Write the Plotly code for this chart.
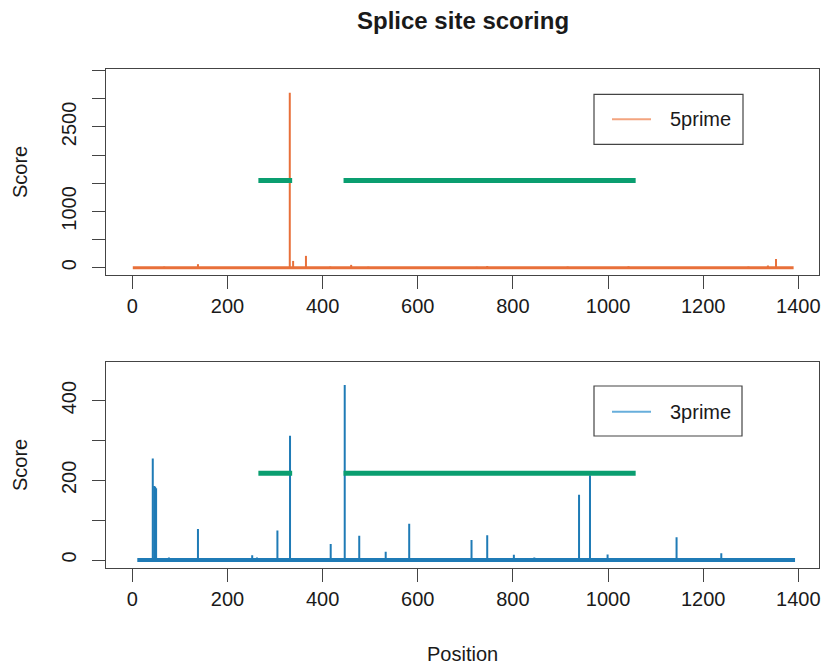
import plotly.graph_objects as go

# ---------------- data ----------------
# 5prime scores (position, score) – spikes above the zero baseline
pos5 = [67, 138, 230, 331, 338, 365, 416, 460, 496, 724, 746, 781, 915, 1043, 1295, 1336, 1353]
score5 = [20, 62, 8, 3110, 120, 210, 20, 50, 18, 15, 30, 10, 20, 25, 20, 40, 155]
range5 = [1, 1390]          # first/last scored position (score 0 baseline)

# 3prime scores
pos3 = [43, 46, 48, 50, 77, 138, 252, 262, 305, 331.5, 417, 446.5, 477, 532.6, 561, 582,
        610, 690, 713, 746, 802, 829, 845, 876, 939, 962, 999, 1144, 1227, 1238]
score3 = [255, 186, 184, 180, 6, 78, 12, 6, 74, 312, 40, 439, 61, 21, 5, 91,
          3, 3, 50, 62, 13, 3, 6, 2, 164, 213, 14, 57, 4, 17]
range3 = [10.5, 1393]

# green segments (exon regions)
seg_start = [265, 444]
seg_end = [336, 1058]
seg_level5 = 1550
seg_level3 = 218

x_ticks = [0, 200, 400, 600, 800, 1000, 1200, 1400]
y5_ticks = [0, 500, 1000, 1500, 2000, 2500, 3000, 3500]
y5_labels = ["0", "", "1000", "", "", "2500", "", ""]
y3_ticks = [0, 100, 200, 300, 400]
y3_labels = ["0", "", "200", "", "400"]

ORANGE = "#E8703A"
ORANGE_L = "#F3A47F"
BLUE = "#1F7BB6"
BLUE_L = "#67AEDB"
GREEN = "#0A9E70"
FONT = "Liberation Sans, Arial, Helvetica, sans-serif"
TXT = "#1a1a1a"
AX = "#444444"

W, H = 825, 665


def spikes(pos, sc):
    xs, ys = [], []
    for p, s in zip(pos, sc):
        xs += [p, p, None]
        ys += [0, s, None]
    return xs, ys


def segs(starts, ends, level):
    xs, ys = [], []
    for a, b in zip(starts, ends):
        xs += [a, b, None]
        ys += [level, level, None]
    return xs, ys


fig = go.Figure()

# top panel
fig.add_trace(go.Scatter(x=range5, y=[0, 0], mode="lines", line=dict(color=ORANGE, width=3),
                         showlegend=False, hoverinfo="skip", xaxis="x", yaxis="y"))
sx, sy = spikes(pos5, score5)
fig.add_trace(go.Scatter(x=sx, y=sy, mode="lines", line=dict(color=ORANGE, width=2),
                         showlegend=False, name="5prime", xaxis="x", yaxis="y"))
gx, gy = segs(seg_start, seg_end, seg_level5)
fig.add_trace(go.Scatter(x=gx, y=gy, mode="lines", line=dict(color=GREEN, width=5),
                         showlegend=False, hoverinfo="skip", xaxis="x", yaxis="y"))

# bottom panel
fig.add_trace(go.Scatter(x=range3, y=[0, 0], mode="lines", line=dict(color=BLUE, width=4),
                         showlegend=False, hoverinfo="skip", xaxis="x2", yaxis="y2"))
sx, sy = spikes(pos3, score3)
fig.add_trace(go.Scatter(x=sx, y=sy, mode="lines", line=dict(color=BLUE, width=2),
                         showlegend=False, name="3prime", xaxis="x2", yaxis="y2"))
gx, gy = segs(seg_start, seg_end, seg_level3)
fig.add_trace(go.Scatter(x=gx, y=gy, mode="lines", line=dict(color=GREEN, width=5),
                         showlegend=False, hoverinfo="skip", xaxis="x2", yaxis="y2"))


def px(x):
    return x / W


def py(y):
    return 1 - y / H


xdom = [px(106), px(819.3)]
common_x = dict(range=[-55.3, 1444], tickvals=x_ticks, ticks="outside", ticklen=13, tickwidth=1,
                tickcolor=AX, showline=True, linecolor=AX, linewidth=1, mirror=True,
                showgrid=False, zeroline=False, domain=xdom,
                tickfont=dict(family=FONT, size=20, color=TXT))
common_y = dict(ticks="outside", ticklen=13, tickwidth=1, tickcolor=AX, showline=True,
                linecolor=AX, linewidth=1, mirror=True, showgrid=False, zeroline=False,
                tickangle=-90, tickfont=dict(family=FONT, size=20, color=TXT),
                ticklabelstandoff=8)

fig.update_layout(
    width=W, height=H,
    margin=dict(l=0, r=0, t=0, b=0),
    paper_bgcolor="white", plot_bgcolor="white",
    showlegend=False,
    xaxis=dict(common_x, anchor="y"),
    yaxis=dict(common_y, range=[-130, 3525], tickvals=y5_ticks, ticktext=y5_labels,
               domain=[py(275), py(69.3)], anchor="x"),
    xaxis2=dict(common_x, anchor="y2"),
    yaxis2=dict(common_y, range=[-19.3, 497], tickvals=y3_ticks, ticktext=y3_labels,
                domain=[py(567.7), py(362)], anchor="x2"),
)

ann = [
    dict(text="<b>Splice site scoring</b>", x=px(463), y=py(20), font=dict(size=24)),
    dict(text="Score", x=px(20), y=py(172), textangle=-90, font=dict(size=20)),
    dict(text="Score", x=px(20), y=py(465), textangle=-90, font=dict(size=20)),
    dict(text="Position", x=px(463), y=py(654), font=dict(size=20)),
    dict(text="5prime", x=px(668), y=py(119.3), xanchor="left", font=dict(size=20)),
    dict(text="3prime", x=px(668), y=py(411.7), xanchor="left", font=dict(size=20)),
]
for a in ann:
    a.setdefault("xanchor", "center")
    a["font"] = dict(family=FONT, color=TXT, **a["font"])
    fig.add_annotation(xref="paper", yref="paper", showarrow=False, yanchor="middle", **a)

shapes = [
    dict(type="rect", x0=px(594), x1=px(743), y0=py(94.3), y1=py(144.3),
         line=dict(color=AX, width=1.2), fillcolor="white", layer="above"),
    dict(type="line", x0=px(612), x1=px(651), y0=py(119.3), y1=py(119.3),
         line=dict(color=ORANGE_L, width=2)),
    dict(type="rect", x0=px(594), x1=px(742), y0=py(386), y1=py(436),
         line=dict(color=AX, width=1.2), fillcolor="rgba(0,0,0,0)"),
    dict(type="line", x0=px(612), x1=px(651), y0=py(411.7), y1=py(411.7),
         line=dict(color=BLUE_L, width=2)),
]
for s in shapes:
    fig.add_shape(xref="paper", yref="paper", **s)

fig.write_html(
    "out.html",
    config={"displayModeBar": False},
    post_script="document.body.style.margin='0';document.body.style.overflow='hidden';",
)
